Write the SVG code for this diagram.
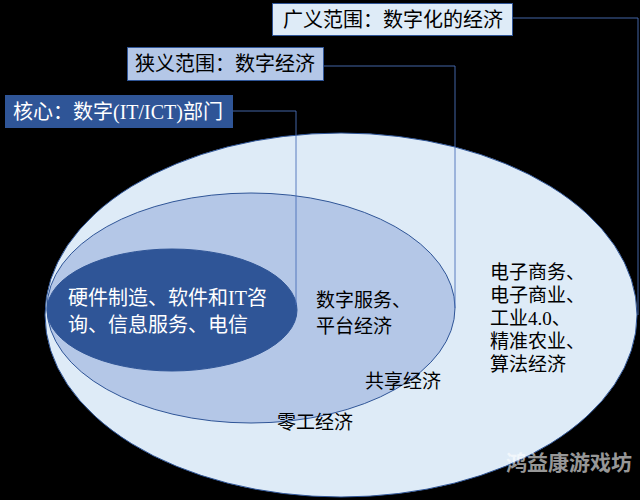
<svg xmlns="http://www.w3.org/2000/svg" width="640" height="500" viewBox="0 0 640 500">
<style>
.t{font-family:"Liberation Serif","Noto Sans CJK SC",serif;font-size:19px;fill:#000}
.w{fill:#fff}
.lbl{font-size:20px}
.conn{fill:none;stroke:#4A70B8;stroke-width:0.9}
.box{stroke:#2F5597;stroke-width:1}
</style>
<rect width="640" height="500" fill="#000"/>
<g id="outer">
<ellipse cx="341" cy="315" rx="296" ry="182" fill="#DEEBF7" stroke="#2F5597" stroke-width="1"/>
<text class="t" x="490" y="279">电子商务、</text>
<text class="t" x="490" y="302">电子商业、</text>
<text class="t" x="490" y="325">工业4.0、</text>
<text class="t" x="490" y="348">精准农业、</text>
<text class="t" x="490" y="371">算法经济</text>
</g>
<g id="middle">
<ellipse cx="251" cy="308" rx="204" ry="115" fill="#B4C7E7" stroke="#2F5597" stroke-width="1"/>
<text class="t" x="316" y="307">数字服务、</text>
<text class="t" x="316" y="333">平台经济</text>
<text class="t" x="365" y="388">共享经济</text>
<text class="t" x="277" y="429">零工经济</text>
</g>
<g id="inner">
<ellipse cx="172" cy="310" rx="125" ry="61" fill="#2F5597" stroke="#2F5597" stroke-width="1"/>
<text class="t w lbl" x="68" y="305">硬件制造、软件和IT咨</text>
<text class="t w lbl" x="68" y="332">询、信息服务、电信</text>
</g>
<g id="connectors">
<polyline class="conn" points="512,18 638,18 638,315"/>
<polyline class="conn" points="323,66 455,66 455,308"/>
<polyline class="conn" points="232,111 296,111 296,305"/>
</g>
<g id="label-broad">
<rect class="box" x="272.5" y="3.5" width="240" height="32" fill="#DEEBF7"/>
<text class="t lbl" x="283" y="27">广义范围：数字化的经济</text>
</g>
<g id="label-narrow">
<rect class="box" x="127.5" y="47.5" width="196" height="33" fill="#B4C7E7"/>
<text class="t lbl" x="135" y="71">狭义范围：数字经济</text>
</g>
<g id="label-core">
<rect class="box" x="5.5" y="95.5" width="227" height="32" fill="#2F5597"/>
<text class="t w lbl" x="13" y="119">核心：数字(IT/ICT)部门</text>
</g>
<text x="506" y="470" font-family="'Noto Sans CJK SC',sans-serif" font-size="21" font-weight="bold" fill="#fff" fill-opacity="0.6">鸿益康游戏坊</text>
</svg>
